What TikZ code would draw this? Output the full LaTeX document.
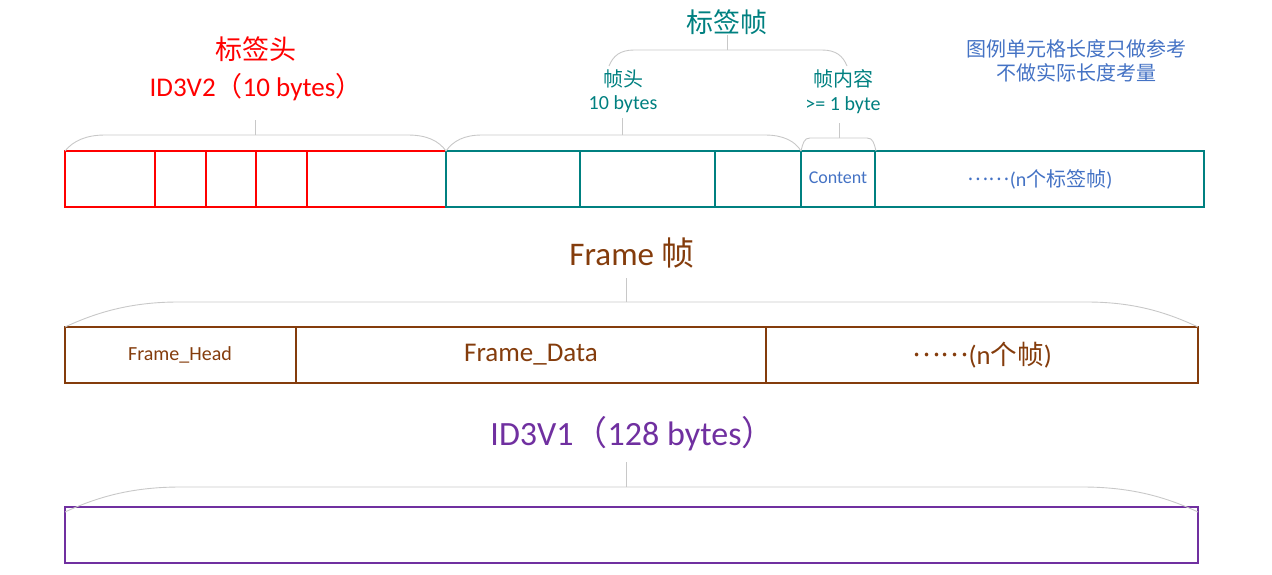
\documentclass[tikz,border=0pt]{standalone}
\usepackage{fontspec}
\setmainfont{Carlito}
\newfontfamily\cjk{Noto Sans CJK SC}
\usepackage{tikz}
\usetikzlibrary{positioning}
\definecolor{tagred}{RGB}{255,0,0}
\definecolor{frameteal}{RGB}{0,128,128}
\definecolor{noteblue}{RGB}{68,114,196}
\definecolor{mpbrown}{RGB}{132,60,12}
\definecolor{vpurple}{RGB}{112,48,160}
\definecolor{bracegray}{RGB}{200,200,200}
\newcommand{\fsz}[1]{\fontsize{#1pt}{#1pt}\selectfont}
\newcommand{\middots}{\raisebox{0.3em}{\cjk ……}}
\tikzset{
  redcell/.style={draw=tagred, line width=0.55pt},
  tealcell/.style={draw=frameteal, line width=0.55pt},
  browncell/.style={draw=mpbrown, line width=0.55pt},
  purplecell/.style={draw=vpurple, line width=0.55pt},
  bracket/.style={draw=bracegray, line width=0.45pt},
  lbl/.style={inner sep=0pt, align=center}
}

\begin{document}
\begin{tikzpicture}[x=0.5pt, y=-0.5pt]
  \useasboundingbox (0,0) rectangle (1272,574);

  % ── ID3V2 row ──────────────────────────────────────────────
  \draw[redcell] (65,151) rectangle (446,207);
  \foreach \xx in {155,206,256,307}
    \draw[redcell] (\xx,151) -- (\xx,207);
  \draw[tealcell] (446,151) rectangle (1204,207);
  \foreach \xx in {580,715,801,875}
    \draw[tealcell] (\xx,151) -- (\xx,207);
  \node[lbl, text=noteblue, font=\fsz{9}] (content) at (838,178) {Content};
  \node[lbl, text=noteblue, font=\fsz{10}] (moreframes) at (1040,179)
    {\middots(n{\cjk 个标签帧})};

  % Brackets over the row
  \draw[bracket] (65,151) .. controls (73,141) and (86,135) .. (105,135)
    -- (408,135) .. controls (427,135) and (439,141) .. (446,151);
  \draw[bracket] (255,135) -- (255,120);
  \draw[bracket] (446,151) .. controls (453,141) and (464,135) .. (482,135)
    -- (765,135) .. controls (783,135) and (795,141) .. (801,151);
  \draw[bracket] (622,135) -- (622,118);
  \draw[bracket] (801,151) .. controls (803,143) and (804,138) .. (810,138)
    -- (867,138) .. controls (873,138) and (874,143) .. (876,151);
  \draw[bracket] (839,138) -- (839,123);
  \draw[bracket] (609,66) .. controls (613,56) and (620,50) .. (634,50)
    -- (822,50) .. controls (836,50) and (843,56) .. (847,66);
  \draw[bracket] (727,50) -- (727,35);

  % Labels
  \node[lbl, text=tagred, font={\fsz{13.5}\cjk}] (hdrtitle) at (256,49) {标签头};
  \node[lbl, text=tagred, font=\fsz{13.5}] (hdrsize) at (256,87)
    {ID3V2{\cjk（}10 bytes{\cjk ）}};
  \node[lbl, text=frameteal, font={\fsz{13.5}\cjk}] (frmtitle) at (727,22) {标签帧};
  \node[lbl, text=frameteal, font={\fsz{10}\cjk}] (fhead) at (623,79) {帧头};
  \node[lbl, text=frameteal, font=\fsz{10}] (fheadsize) at (623,104) {10 bytes};
  \node[lbl, text=frameteal, font={\fsz{10}\cjk}] (fbody) at (843,79) {帧内容};
  \node[lbl, text=frameteal, font=\fsz{10}] (fbodysize) at (843,105) {>= 1 byte};
  \node[lbl, text=noteblue, font={\fsz{10}\cjk}] (note) at (1076,61)
    {图例单元格长度只做参考\\[2pt]不做实际长度考量};

  % ── MP3 frame row ──────────────────────────────────────────
  \draw[browncell] (65,327) rectangle (1198,383);
  \foreach \xx in {296,766}
    \draw[browncell] (\xx,327) -- (\xx,383);
  \node[lbl, text=mpbrown, font=\fsz{10}] (fhd) at (180,355) {Frame\_Head};
  \node[lbl, text=mpbrown, font=\fsz{13.5}] (fdata) at (531,355) {Frame\_Data};
  \node[lbl, text=mpbrown, font=\fsz{13.3}] (nframes) at (982,355)
    {\middots(n{\cjk 个帧})};
  \draw[bracket] (65,327) .. controls (95,313) and (130,302) .. (178,302)
    -- (1087,302) .. controls (1135,302) and (1168,313) .. (1198,327);
  \draw[bracket] (626,302) -- (626,278);
  \node[lbl, text=mpbrown, font=\fsz{16.5}] (frametitle) at (632,253) {Frame {\cjk 帧}};

  % ── ID3V1 row ──────────────────────────────────────────────
  \draw[purplecell] (65,507) rectangle (1198,563);
  \draw[bracket] (65,512) .. controls (95,498) and (130,487) .. (180,487)
    -- (1083,487) .. controls (1133,487) and (1168,498) .. (1198,512);
  \draw[bracket] (626,487) -- (626,462);
  \node[lbl, text=vpurple, font=\fsz{17}] (v1title) at (633,434)
    {ID3V1{\cjk（}128 bytes{\cjk ）}};
\end{tikzpicture}
\end{document}
